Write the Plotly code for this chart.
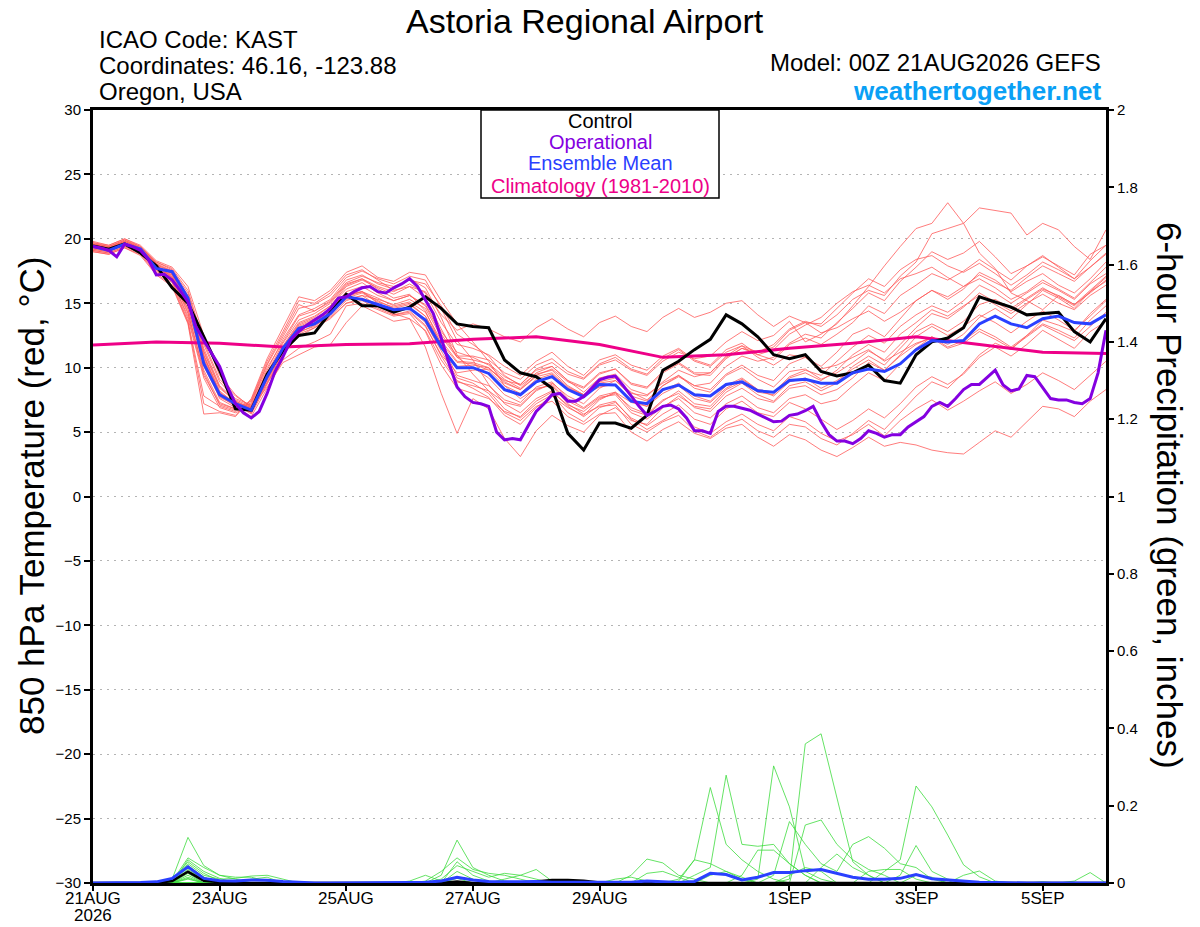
import plotly.graph_objects as go

# time axis in hours after 00Z 21AUG2026
hours = list(range(0, 385, 6))
hours_3h = list(range(0, 385, 3))
hours_day = list(range(0, 385, 24))

# 850 hPa temperature (C)
control = [19.45, 19.2, 19.6, 18.9, 17.9, 16.2, 15.0,
           12.4, 9.8, 6.8, 6.7, 9.5, 11.3,
           12.5, 12.7, 14.3, 15.7, 14.8, 14.8, 14.3, 14.7, 15.5, 14.6, 13.4,
           13.2, 13.1, 10.6, 9.6, 9.3, 8.4, 4.9, 3.6, 5.7, 5.7, 5.3,
           6.3, 9.8, 10.5, 11.4, 12.2, 14.1, 13.4, 12.4, 11.0, 10.7,
           11.0, 9.7, 9.35, 9.6, 10.2, 9.0, 8.8, 11.0, 12.0, 12.3,
           13.1, 15.5, 15.1, 14.7, 14.1, 14.2, 14.3, 12.8, 12.0, 13.8]

ens_mean = [19.4, 19.1, 19.6, 19.2, 17.7, 17.45, 15.4,
            10.3, 7.9, 7.2, 6.7, 9.3, 11.5,
            13.05, 13.4, 14.2, 15.5, 15.3, 14.9, 14.5, 14.6, 13.7, 11.6, 10.0,
            10.0, 9.55, 8.3, 7.9, 8.9, 9.3, 8.3, 7.75, 8.7, 8.65, 7.4,
            7.2, 8.3, 8.65, 7.9, 7.8, 8.7, 8.9, 8.2, 8.1, 9.0,
            9.1, 8.8, 8.8, 9.6, 9.9, 9.7, 10.3, 11.4, 12.1, 12.0,
            12.1, 13.4, 14.0, 13.4, 13.1, 13.8, 14.0, 13.5, 13.4, 14.1]

# operational run, 3-hourly
operational = [19.4, 19.3, 19.1, 18.6, 19.6, 19.4, 19.1, 18.4, 17.2, 17.25,
               16.8, 16.0, 15.1, 13.2, 12.1, 11.1, 10.1, 8.5, 7.2, 6.5,
               6.1, 6.6, 8.0, 9.7, 10.85, 12.15, 12.8, 13.3, 13.7, 14.1,
               14.6, 15.4, 15.5, 15.9, 16.2, 16.3, 15.9, 15.8, 16.2, 16.5,
               16.9, 16.3, 15.25, 14.2, 12.3, 10.3, 8.5, 7.75, 7.3,
               7.2, 7.0, 5.0, 4.4, 4.5, 4.4, 5.5, 6.6, 7.2, 7.9,
               8.0, 7.4, 7.4, 7.75, 8.4, 9.05, 9.25, 9.35, 8.6, 7.75,
               7.0, 6.3, 6.6, 7.0, 7.1, 6.8, 6.1, 5.1, 5.1, 4.9,
               6.6, 7.0, 7.0, 6.85, 6.7, 6.4, 6.1, 5.8, 5.85, 6.3,
               6.4, 6.66, 7.0, 5.8, 4.8, 4.3, 4.3, 4.1, 4.5, 5.1,
               4.9, 4.6, 4.8, 4.8, 5.4, 5.8, 6.2, 7.0, 7.3, 7.0,
               7.6, 8.3, 8.7, 8.7, 9.25, 9.8, 8.65, 8.2, 8.35, 9.4,
               9.3, 8.4, 7.6, 7.5, 7.5, 7.3, 7.2, 7.6, 9.6, 12.9]

# climatology, daily
climatology = [11.75, 12.0, 11.9, 11.6, 11.8, 11.85, 12.2, 12.4, 11.8,
               10.8, 11.0, 11.5, 11.9, 12.4, 11.8, 11.2, 11.1]

m01 = [19.6, 19.4, 19.9, 19.3, 18.1, 17.0, 14.5,
       10.5, 7.6, 6.9, 6.6, 9.0, 11.6,
       13.4, 13.9, 14.8, 16.1, 16.6, 15.8, 15.2, 15.6, 14.9, 12.8, 11.2,
       10.8, 10.2, 9.1, 8.4, 9.6, 10.1, 9.0, 8.1, 9.2, 9.5, 8.3,
       7.9, 8.8, 9.4, 8.6, 8.3, 9.5, 10.2, 9.4, 9.0, 10.3,
       10.8, 10.1, 11.2, 12.6, 13.1, 12.4, 13.8, 15.2, 16.0, 15.3,
       16.1, 17.4, 16.8, 15.9, 16.7, 17.3, 16.4, 15.8, 16.9, 18.2]
m02 = [19.2, 19.0, 19.5, 19.0, 17.6, 16.8, 13.8,
       9.2, 6.9, 6.5, 7.0, 9.8, 12.2,
       14.1, 14.6, 15.3, 16.8, 17.2, 16.5, 16.1, 16.9, 16.2, 13.9, 11.0,
       9.5, 8.2, 6.8, 6.1, 7.2, 7.9, 6.5, 5.8, 6.9, 7.3, 6.1,
       5.5, 6.4, 7.1, 6.0, 5.6, 6.8, 7.4, 6.5, 6.2, 7.3,
       6.8, 6.0, 5.2, 5.9, 6.8, 6.1, 7.2, 8.5, 9.3, 8.7,
       9.5, 10.8, 11.6, 10.9, 11.8, 12.9, 12.2, 11.5, 12.8, 13.6]
m03 = [19.5, 19.3, 19.7, 19.1, 17.9, 17.3, 15.1,
       11.2, 8.4, 7.4, 6.9, 8.8, 10.9,
       12.6, 13.1, 13.9, 15.0, 15.4, 14.9, 14.1, 14.3, 13.2, 11.0, 9.6,
       9.8, 9.9, 9.0, 8.7, 9.9, 10.4, 9.5, 9.1, 10.2, 10.6, 9.8,
       9.4, 10.5, 11.2, 10.7, 10.9, 12.0, 12.8, 12.1, 12.5, 13.6,
       12.0, 12.6, 13.4, 14.8, 16.3, 17.9, 19.4, 20.8, 21.2, 22.8,
       21.2, 18.9, 17.7, 15.8, 15.2, 14.5, 15.6, 14.9, 15.8, 16.8]
m04 = [19.3, 19.1, 19.6, 19.2, 17.8, 17.1, 14.9,
       10.9, 8.0, 7.3, 6.5, 9.1, 11.3,
       13.0, 13.6, 14.4, 15.7, 15.9, 15.2, 14.6, 14.9, 14.0, 11.9, 10.4,
       10.3, 9.8, 8.6, 8.0, 9.1, 9.5, 8.4, 7.9, 8.9, 9.2, 8.0,
       7.8, 8.9, 9.8, 9.3, 9.6, 10.8, 11.5, 11.2, 11.8, 13.0,
       13.6, 13.2, 14.1, 15.3, 16.0, 15.6, 17.1, 18.2, 20.4, 20.8,
       21.2, 22.4, 22.2, 22.0, 20.3, 21.2, 20.7, 19.4, 18.4, 20.7]
m05 = [19.7, 19.5, 20.0, 19.4, 18.2, 17.6, 15.8,
       11.8, 8.9, 7.6, 7.1, 9.6, 11.9,
       13.7, 14.2, 15.0, 16.4, 16.9, 16.3, 15.9, 16.5, 15.8, 13.5, 11.8,
       11.5, 11.0, 10.1, 9.4, 10.5, 11.2, 10.1, 9.4, 10.6, 11.0, 10.2,
       9.8, 10.9, 11.5, 10.6, 10.2, 11.4, 11.9, 11.0, 10.6, 11.8,
       12.3, 11.8, 12.6, 13.5, 14.8, 14.2, 15.6, 16.4, 17.3, 16.8,
       17.5, 18.4, 17.6, 16.8, 17.9, 18.6, 17.9, 17.2, 18.8, 19.5]
m06 = [19.1, 18.9, 19.4, 18.9, 17.4, 16.6, 13.6,
       7.8, 7.0, 6.6, 7.3, 10.2, 12.4,
       14.6, 14.9, 15.6, 17.0, 17.5, 16.9, 16.5, 17.1, 16.8, 14.6, 12.1,
       10.6, 8.7, 7.2, 6.5, 7.6, 8.2, 7.0, 6.2, 7.1, 7.4, 6.0,
       5.2, 5.9, 6.6, 5.4, 4.9, 5.8, 6.4, 5.6, 5.1, 6.2,
       5.8, 4.9, 4.3, 4.8, 5.6, 4.7, 5.9, 6.8, 7.5, 6.7,
       7.4, 8.2, 8.9, 8.0, 8.7, 9.6, 9.0, 8.3, 9.4, 10.5]
m07 = [19.4, 19.2, 19.6, 19.0, 17.7, 16.9, 14.2,
       9.8, 7.3, 6.8, 6.8, 9.4, 11.5,
       13.3, 13.8, 14.5, 15.6, 15.9, 15.0, 14.2, 13.8, 11.6, 8.0, 4.9,
       7.6, 6.8, 4.5, 3.1, 5.1, 6.3, 5.5, 5.0, 6.3, 6.9, 5.9,
       5.6, 6.9, 7.8, 7.0, 6.8, 8.1, 8.8, 7.9, 7.4, 8.6,
       8.9, 8.2, 8.8, 10.1, 10.9, 10.2, 11.5, 12.8, 13.4, 12.8,
       13.6, 14.9, 15.3, 14.6, 15.4, 16.2, 15.5, 14.8, 15.9, 16.7]
m08 = [19.8, 19.5, 20.0, 19.5, 18.3, 17.8, 16.3,
       12.5, 9.4, 7.9, 6.9, 8.5, 10.4,
       11.0, 11.6, 11.8, 13.5, 14.8, 14.2, 13.6, 13.8, 12.9, 10.6, 8.9,
       8.6, 8.2, 7.3, 7.0, 8.2, 8.8, 7.8, 7.2, 8.4, 9.0, 8.1,
       7.5, 8.6, 9.4, 8.4, 8.1, 9.4, 10.0, 9.1, 8.5, 9.7,
       9.9, 9.1, 9.6, 10.4, 11.3, 10.6, 11.8, 13.1, 14.2, 13.8,
       14.7, 15.8, 15.1, 14.4, 15.3, 16.1, 15.6, 14.9, 16.0, 17.1]
m09 = [19.0, 18.8, 19.3, 18.8, 17.3, 16.4, 13.5,
       7.2, 6.6, 6.3, 7.5, 10.5, 12.8,
       15.2, 15.0, 15.8, 17.2, 17.6, 16.8, 16.0, 16.3, 15.4, 13.0, 10.8,
       10.0, 9.2, 7.9, 7.3, 8.5, 8.9, 7.6, 6.9, 7.8, 8.1, 6.7,
       6.3, 7.4, 8.2, 7.2, 7.0, 8.3, 8.9, 8.1, 7.9, 9.2,
       9.6, 9.0, 9.8, 11.0, 11.8, 11.2, 12.6, 13.5, 14.5, 14.0,
       14.8, 15.6, 14.9, 14.2, 15.0, 15.7, 15.0, 14.5, 15.6, 16.4]
m10 = [19.3, 19.1, 19.5, 19.1, 17.7, 17.0, 14.6,
       10.1, 7.7, 7.1, 6.7, 9.2, 11.4,
       12.9, 13.5, 14.2, 15.3, 15.6, 14.8, 14.3, 14.6, 13.5, 11.3, 9.2,
       8.8, 8.0, 6.5, 5.9, 7.0, 7.4, 6.2, 5.6, 6.4, 6.5, 5.0,
       4.3, 5.2, 5.8, 4.9, 4.5, 5.3, 5.6, 4.6, 3.9, 4.8,
       4.4, 3.6, 3.1, 3.8, 4.6, 3.9, 4.2, 4.0, 3.6, 3.4,
       3.3, 4.2, 5.1, 4.6, 5.8, 7.0, 6.8, 6.2, 7.4, 8.3]
m11 = [19.6, 19.4, 19.8, 19.3, 18.0, 17.4, 15.3,
       11.0, 8.2, 7.2, 6.4, 8.7, 11.0,
       12.7, 13.3, 14.0, 15.2, 15.6, 15.3, 14.9, 15.3, 14.6, 12.4, 10.8,
       10.6, 10.3, 9.3, 8.7, 9.8, 10.1, 9.0, 8.5, 9.6, 9.9, 8.7,
       8.4, 9.6, 10.3, 9.5, 9.4, 10.7, 11.5, 11.0, 11.4, 12.6,
       13.3, 13.9, 15.0, 15.9, 16.4, 15.8, 16.9, 17.3, 17.8, 17.0,
       16.3, 16.9, 16.2, 15.3, 15.9, 16.8, 16.1, 15.4, 16.6, 17.8]
m12 = [19.2, 19.0, 19.6, 19.2, 17.6, 17.2, 15.0,
       10.6, 7.8, 7.0, 6.2, 8.4, 10.6,
       11.5, 12.0, 12.6, 14.8, 15.0, 14.5, 14.0, 14.2, 12.8, 10.2, 8.4,
       8.0, 7.6, 6.6, 6.2, 7.4, 8.1, 7.1, 6.6, 7.6, 8.0, 6.9,
       6.4, 7.5, 8.0, 6.9, 6.6, 7.8, 8.4, 7.6, 7.3, 8.4,
       8.6, 7.9, 8.3, 9.2, 10.4, 9.8, 11.0, 12.4, 13.2, 12.5,
       13.2, 14.1, 13.5, 12.7, 13.6, 14.4, 13.7, 12.9, 14.0, 15.2]
m13 = [19.5, 19.3, 19.8, 19.3, 18.1, 17.5, 15.6,
       11.5, 8.6, 7.5, 7.0, 9.5, 11.7,
       13.5, 14.0, 14.8, 16.3, 16.8, 16.2, 15.7, 16.3, 15.9, 14.1, 12.9,
       13.4, 13.0, 12.4, 12.0, 13.1, 13.8, 13.0, 12.4, 13.5, 14.0, 13.2,
       12.8, 13.9, 14.6, 13.9, 14.3, 15.0, 15.2, 14.1, 13.2, 14.0,
       13.5, 12.7, 13.1, 13.8, 14.4, 13.6, 14.3, 15.2, 16.0, 15.5,
       16.3, 17.2, 16.6, 16.0, 17.0, 17.9, 17.3, 16.7, 17.8, 18.8]
m14 = [19.4, 19.2, 19.7, 19.1, 17.9, 17.0, 14.3,
       9.6, 7.1, 6.7, 7.2, 10.0, 12.0,
       14.0, 14.4, 15.1, 16.5, 16.9, 16.1, 15.4, 15.7, 14.4, 11.8, 9.4,
       9.0, 8.6, 7.5, 7.1, 8.3, 8.7, 7.4, 6.8, 7.7, 7.9, 6.5,
       6.0, 7.0, 7.6, 6.5, 6.1, 7.2, 7.8, 6.9, 6.5, 7.6,
       7.9, 7.2, 7.5, 8.6, 9.6, 9.0, 10.3, 11.5, 12.4, 11.8,
       12.6, 13.9, 14.6, 13.8, 14.9, 16.0, 15.4, 14.6, 15.9, 17.0]
m15 = [19.7, 19.4, 19.9, 19.4, 18.2, 17.7, 16.0,
       12.0, 9.1, 7.8, 7.0, 9.0, 11.1,
       12.8, 13.2, 14.1, 15.4, 15.8, 15.1, 14.7, 15.0, 14.0, 11.7, 10.1,
       10.2, 10.0, 8.9, 8.3, 9.3, 9.6, 8.5, 7.9, 8.8, 9.0, 7.8,
       7.4, 8.6, 9.3, 8.6, 8.8, 10.1, 10.9, 10.5, 10.8, 11.9,
       12.6, 12.3, 13.5, 14.6, 15.8, 15.2, 16.7, 17.8, 19.0, 18.4,
       18.9, 19.8, 18.6, 17.3, 17.9, 18.7, 17.8, 16.9, 17.8, 18.9]
m16 = [19.1, 18.9, 19.4, 19.0, 17.5, 16.7, 14.0,
       9.4, 7.2, 6.8, 7.4, 10.3, 12.6,
       14.9, 14.4, 15.2, 16.6, 17.1, 16.6, 16.3, 16.8, 16.5, 14.8, 12.6,
       11.8, 10.9, 9.4, 8.6, 9.5, 9.8, 8.6, 7.9, 8.5, 8.7, 7.5,
       7.0, 8.0, 8.6, 7.6, 7.3, 8.4, 9.1, 8.3, 8.1, 9.3,
       9.8, 9.4, 10.5, 11.6, 12.5, 11.9, 13.2, 14.1, 14.8, 14.3,
       15.2, 16.4, 15.8, 15.0, 15.8, 16.6, 16.0, 15.3, 16.5, 17.3]
m17 = [19.3, 19.1, 19.6, 19.2, 17.8, 17.3, 15.4,
       10.9, 8.1, 7.2, 6.5, 8.9, 11.2,
       12.4, 13.1, 13.8, 15.0, 15.2, 14.6, 14.1, 14.4, 13.3, 10.9, 9.0,
       8.4, 7.7, 6.3, 5.6, 6.9, 7.8, 6.9, 6.3, 7.5, 8.1, 7.3,
       7.0, 8.2, 8.8, 7.8, 7.4, 8.6, 9.2, 8.3, 7.8, 8.9,
       9.2, 8.4, 9.0, 9.9, 10.6, 9.8, 10.9, 11.8, 12.4, 11.6,
       12.1, 13.0, 12.4, 11.6, 12.5, 13.4, 12.9, 12.3, 13.7, 14.8]
m18 = [19.6, 19.3, 19.8, 19.3, 18.0, 17.5, 15.5,
       11.3, 8.5, 7.4, 6.8, 9.3, 11.6,
       13.2, 13.7, 14.5, 15.9, 16.3, 15.6, 15.2, 15.6, 14.8, 12.6, 10.9,
       10.9, 10.6, 9.6, 9.1, 10.2, 10.7, 9.7, 9.2, 10.3, 10.8, 9.9,
       9.5, 10.7, 11.4, 10.5, 10.1, 11.2, 11.7, 10.8, 10.2, 11.0,
       10.8, 9.9, 10.2, 10.8, 11.4, 10.5, 11.2, 11.9, 12.3, 11.5,
       11.9, 12.8, 12.2, 11.5, 12.4, 13.3, 12.7, 12.1, 13.2, 14.3]
m19 = [19.0, 18.8, 19.3, 18.7, 17.2, 16.3, 13.4,
       6.4, 6.5, 6.2, 7.6, 10.7, 13.1,
       15.5, 15.2, 16.0, 17.4, 17.9, 17.0, 16.7, 17.4, 17.2, 15.2, 13.4,
       12.0, 10.5, 8.6, 7.6, 8.4, 8.6, 7.2, 6.4, 7.0, 7.1, 5.6,
       5.0, 5.8, 6.3, 5.1, 4.6, 5.5, 6.0, 5.1, 4.6, 5.6,
       5.4, 4.5, 4.0, 4.9, 5.9, 5.2, 6.5, 7.8, 8.9, 8.4,
       9.6, 11.0, 11.9, 11.4, 12.5, 13.7, 13.3, 12.8, 14.2, 15.3]
m20 = [19.5, 19.2, 19.7, 19.2, 17.9, 17.2, 15.2,
       10.7, 8.0, 7.3, 6.9, 9.4, 11.5,
       13.1, 13.6, 14.3, 15.5, 15.9, 15.4, 14.8, 15.1, 14.3, 12.1, 10.5,
       10.4, 10.0, 8.8, 8.3, 9.4, 9.9, 8.9, 8.4, 9.5, 9.9, 8.8,
       8.5, 9.7, 10.4, 9.6, 9.6, 10.9, 11.7, 11.2, 11.6, 12.9,
       13.5, 13.4, 14.6, 15.8, 16.9, 16.3, 17.6, 18.4, 18.7, 17.9,
       17.4, 18.1, 17.3, 16.4, 17.2, 18.2, 17.6, 16.9, 18.3, 19.5]
members = [m01, m02, m03, m04, m05, m06, m07, m08, m09, m10,
           m11, m12, m13, m14, m15, m16, m17, m18, m19, m20]

# 6-hour precipitation (inches), nonzero steps only: {step index: value}
p01 = {5: 0.01, 6: 0.118, 7: 0.045, 8: 0.02, 9: 0.01, 23: 0.055, 24: 0.02, 25: 0.005,
       44: 0.01, 45: 0.36, 46: 0.386, 47: 0.219, 48: 0.055, 49: 0.02}
p02 = {5: 0.005, 6: 0.065, 7: 0.04, 8: 0.02, 9: 0.015, 10: 0.015, 11: 0.005,
       22: 0.02, 23: 0.111, 24: 0.04, 25: 0.02, 26: 0.005,
       37: 0.005, 38: 0.06, 39: 0.247, 40: 0.1, 41: 0.06, 42: 0.03, 43: 0.01}
p03 = {6: 0.06, 7: 0.03, 8: 0.012, 23: 0.03, 24: 0.01,
       38: 0.02, 39: 0.04, 40: 0.279, 41: 0.1, 42: 0.095, 43: 0.1, 44: 0.05, 45: 0.02}
p04 = {5: 0.005, 6: 0.055, 7: 0.025, 8: 0.005,
       42: 0.01, 43: 0.303, 44: 0.197, 45: 0.03, 46: 0.01}
p05 = {6: 0.05, 7: 0.02, 8: 0.01, 9: 0.012, 10: 0.018, 11: 0.02, 12: 0.01,
       21: 0.005, 22: 0.03, 23: 0.065, 24: 0.035, 25: 0.025, 26: 0.02, 27: 0.01,
       50: 0.03, 51: 0.06, 52: 0.251, 53: 0.197, 54: 0.124, 55: 0.047, 56: 0.016}
p06 = {6: 0.045, 7: 0.015,
       22: 0.01, 23: 0.045, 24: 0.03, 25: 0.015, 26: 0.025, 27: 0.02, 28: 0.035, 29: 0.005,
       43: 0.02, 44: 0.159, 45: 0.1, 46: 0.05, 47: 0.03, 48: 0.1, 49: 0.12, 50: 0.09,
       51: 0.05, 52: 0.04, 53: 0.01}
p07 = {6: 0.04, 7: 0.015, 34: 0.02, 35: 0.062, 36: 0.052, 37: 0.02, 38: 0.01}
p08 = {6: 0.035, 7: 0.01, 20: 0.005, 21: 0.02, 22: 0.005,
       45: 0.15, 46: 0.163, 47: 0.1, 48: 0.06, 49: 0.035, 50: 0.02}
p09 = {6: 0.03, 7: 0.012, 41: 0.02, 42: 0.085, 43: 0.085, 44: 0.05, 45: 0.02}
p10 = {6: 0.025, 23: 0.012, 51: 0.02, 52: 0.097, 53: 0.03, 54: 0.01}
p11 = {6: 0.02, 55: 0.02, 56: 0.031, 57: 0.005}
p12 = {6: 0.015, 37: 0.01, 38: 0.06, 39: 0.05, 40: 0.03, 41: 0.01}
p13 = {6: 0.012, 35: 0.025, 36: 0.03, 37: 0.015}
p14 = {6: 0.01, 46: 0.04, 47: 0.075, 48: 0.04, 49: 0.02}
p15 = {49: 0.03, 50: 0.035, 51: 0.035, 52: 0.01, 62: 0.005, 63: 0.027}
p16 = {26: 0.01, 27: 0.02, 28: 0.01, 33: 0.01, 34: 0.015, 35: 0.005}
p17 = {10: 0.01, 11: 0.015, 39: 0.02, 40: 0.03, 41: 0.015}
p18 = {44: 0.02, 45: 0.04, 46: 0.03}
p19 = {52: 0.02, 53: 0.015}
p20 = {60: 0.003}
member_precip = [p01, p02, p03, p04, p05, p06, p07, p08, p09, p10,
                 p11, p12, p13, p14, p15, p16, p17, p18, p19, p20]

control_precip = {5: 0.005, 6: 0.029, 7: 0.006, 8: 0.002, 23: 0.004,
                  28: 0.004, 29: 0.008, 30: 0.008, 31: 0.006, 32: 0.001}
mean_precip = {3: 0.001, 4: 0.003, 5: 0.012, 6: 0.042, 7: 0.012, 8: 0.006, 9: 0.005,
               10: 0.008, 11: 0.007, 12: 0.004, 13: 0.002, 20: 0.001, 21: 0.002,
               22: 0.005, 23: 0.015, 24: 0.008, 25: 0.004, 26: 0.003, 27: 0.003,
               28: 0.004, 29: 0.002, 30: 0.002, 31: 0.002, 32: 0.001, 33: 0.001,
               34: 0.002, 35: 0.005, 36: 0.003, 37: 0.001, 38: 0.004, 39: 0.025,
               40: 0.022, 41: 0.008, 42: 0.015, 43: 0.027, 44: 0.027, 45: 0.032,
               46: 0.035, 47: 0.025, 48: 0.015, 49: 0.01, 50: 0.01, 51: 0.012,
               52: 0.022, 53: 0.011, 54: 0.008, 55: 0.004, 56: 0.002, 57: 0.001}

tick_hours = [0, 48, 96, 144, 192, 264, 312, 360]
tick_text = ["21AUG", "23AUG", "25AUG", "27AUG", "29AUG", "1SEP", "3SEP", "5SEP"]


def full_series(steps):
    return [steps.get(i, 0.0) for i in range(len(hours))]


fig = go.Figure()

for m in members:
    fig.add_trace(go.Scatter(x=hours, y=m, mode="lines",
                             line=dict(color="#ff5a5a", width=0.8)))

for p in member_precip:
    fig.add_trace(go.Scatter(x=hours, y=full_series(p), mode="lines", yaxis="y2",
                             line=dict(color="#3ddc3d", width=0.8)))

fig.add_trace(go.Scatter(x=hours, y=full_series(control_precip), mode="lines", yaxis="y2",
                         line=dict(color="black", width=2.5)))
fig.add_trace(go.Scatter(x=hours, y=full_series(mean_precip), mode="lines", yaxis="y2",
                         line=dict(color="#2a40ff", width=3)))

fig.add_trace(go.Scatter(x=hours_day, y=climatology, mode="lines",
                         line=dict(color="#ee0088", width=3)))
fig.add_trace(go.Scatter(x=hours, y=control, mode="lines",
                         line=dict(color="black", width=3)))
fig.add_trace(go.Scatter(x=hours, y=ens_mean, mode="lines",
                         line=dict(color="#2a40ff", width=3)))
fig.add_trace(go.Scatter(x=hours_3h, y=operational, mode="lines",
                         line=dict(color="#8400e0", width=3)))

font = "Liberation Sans, Arial, sans-serif"

fig.update_layout(
    width=1200, height=927,
    margin=dict(l=93, r=94, t=110, b=44, autoexpand=False),
    plot_bgcolor="white", paper_bgcolor="white",
    showlegend=False,
    font=dict(family=font, color="black", size=15),
    xaxis=dict(range=[0, 384], tickvals=tick_hours, showticklabels=False, automargin=False,
               ticks="outside", ticklen=5, tickwidth=1.5, tickcolor="black",
               showgrid=False, zeroline=False,
               showline=True, linewidth=3, linecolor="black", mirror=True),
    yaxis=dict(range=[-30, 30], tickvals=list(range(-30, 31, 5)), automargin=False,
               ticks="outside", ticklen=6, tickwidth=1.5, tickcolor="black",
               showgrid=True, gridcolor="#b4b4b4", griddash="2px,5px", gridwidth=1,
               zeroline=False, showline=True, linewidth=3, linecolor="black", mirror=True),
    yaxis2=dict(range=[0, 2], overlaying="y", side="right", automargin=False,
                tickvals=[0, 0.2, 0.4, 0.6, 0.8, 1, 1.2, 1.4, 1.6, 1.8, 2],
                ticktext=["0", "0.2", "0.4", "0.6", "0.8", "1", "1.2", "1.4", "1.6", "1.8", "2"],
                ticks="outside", ticklen=5, tickwidth=1.5, tickcolor="black",
                showgrid=False, zeroline=False, showline=True, linewidth=3, linecolor="black"),
)


def px(x):
    return (x - 93) / 1013


def py(y):
    return (883 - y) / 773


# date labels under the time axis
for h, label in zip(tick_hours, tick_text):
    fig.add_annotation(text=label, x=h, y=py(898), xref="x", yref="paper",
                       xanchor="center", yanchor="middle", showarrow=False,
                       font=dict(size=17, family=font))
fig.add_annotation(text="2026", x=0, y=py(916), xref="x", yref="paper",
                   xanchor="center", yanchor="middle", showarrow=False,
                   font=dict(size=17, family=font))

notes = [
    ("ICAO Code: KAST", px(97), py(40), "left", 24, "black"),
    ("Coordinates: 46.16, -123.88", px(97), py(66), "left", 24, "black"),
    ("Oregon, USA", px(97), py(92), "left", 24, "black"),
    ("Model: 00Z 21AUG2026 GEFS", px(1103), py(62), "right", 24, "black"),
    ("<b>weathertogether.net</b>", px(1103), py(91), "right", 26, "#0aa0f5"),
    ("Control", px(600), py(121), "center", 20, "black"),
    ("Operational", px(600), py(142), "center", 20, "#8400e0"),
    ("Ensemble Mean", px(600), py(163), "center", 20, "#2a40ff"),
    ("Climatology (1981-2010)", px(600), py(186), "center", 20, "#ee0088"),
]
for text, x, y, anchor, size, color in notes:
    fig.add_annotation(text=text, x=x, y=y, xref="paper", yref="paper",
                       xanchor=anchor, yanchor="middle", showarrow=False,
                       font=dict(size=size, color=color, family=font))

fig.add_annotation(text="Astoria Regional Airport", x=px(585), y=py(0), xref="paper",
                   yref="paper", xanchor="center", yanchor="top", showarrow=False,
                   font=dict(size=34, family=font))
fig.add_annotation(text="850 hPa Temperature (red, °C)", x=px(31), y=py(496),
                   xref="paper", yref="paper", textangle=-90, showarrow=False,
                   xanchor="center", yanchor="middle", font=dict(size=35, family=font))
fig.add_annotation(text="6-hour Precipitation (green, inches)", x=px(1170), y=py(495),
                   xref="paper", yref="paper", textangle=90, showarrow=False,
                   xanchor="center", yanchor="middle", font=dict(size=35, family=font))

fig.add_shape(type="rect", xref="paper", yref="paper",
              x0=px(481), x1=px(719), y0=py(198), y1=py(110),
              line=dict(color="black", width=1.5), fillcolor="white", layer="above")

fig.write_html("out.html", config={"displayModeBar": False},
               post_script="document.body.style.margin='0';")
